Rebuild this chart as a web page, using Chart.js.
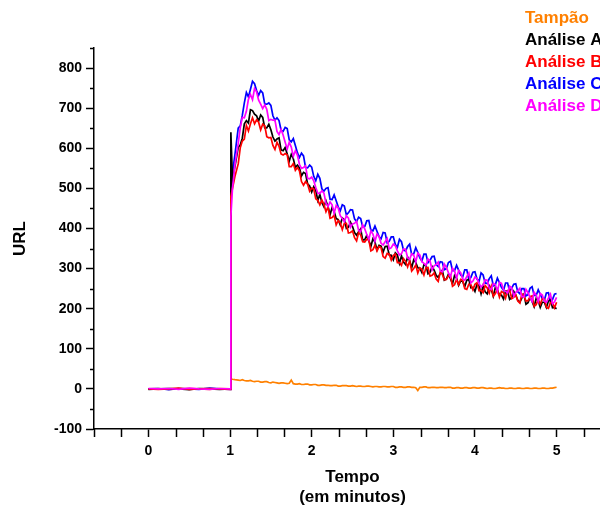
<!DOCTYPE html>
<html>
<head>
<meta charset="utf-8">
<script src="https://cdn.jsdelivr.net/npm/chart.js@4.4.0/dist/chart.umd.min.js"></script>
<style>
  html, body { margin: 0; padding: 0; background: #fff; overflow: hidden; }
  /* the original figure is cropped on the right, so the canvas is a bit wider than the window */
  #wrap { position: absolute; left: 0; top: 0; width: 620px; height: 509px; }
</style>
</head>
<body>
<div id="wrap"><canvas id="chart"></canvas></div>
<script>
// --------------------------
// Data
// --------------------------
const time = [
  0, 0.12, 0.25, 0.37, 0.5, 0.62, 0.75, 0.87, 1.0, 1.01, 1.03, 1.06,
  1.100, 1.125, 1.150, 1.175, 1.200, 1.225, 1.250, 1.275, 1.300, 1.325, 1.350, 1.375, 1.400, 1.425, 1.450, 1.475, 1.500, 1.525, 1.550, 1.575,
  1.600, 1.625, 1.650, 1.675, 1.700, 1.725, 1.750, 1.775, 1.800, 1.825, 1.850, 1.875, 1.900, 1.925, 1.950, 1.975, 2.000, 2.025, 2.050, 2.075,
  2.100, 2.125, 2.150, 2.175, 2.200, 2.225, 2.250, 2.275, 2.300, 2.325, 2.350, 2.375, 2.400, 2.425, 2.450, 2.475, 2.500, 2.525, 2.550, 2.575,
  2.600, 2.625, 2.650, 2.675, 2.700, 2.725, 2.750, 2.775, 2.800, 2.825, 2.850, 2.875, 2.900, 2.925, 2.950, 2.975, 3.000, 3.025, 3.050, 3.075,
  3.100, 3.125, 3.150, 3.175, 3.200, 3.225, 3.250, 3.275, 3.300, 3.325, 3.350, 3.375, 3.400, 3.425, 3.450, 3.475, 3.500, 3.525, 3.550, 3.575,
  3.600, 3.625, 3.650, 3.675, 3.700, 3.725, 3.750, 3.775, 3.800, 3.825, 3.850, 3.875, 3.900, 3.925, 3.950, 3.975, 4.000, 4.025, 4.050, 4.075,
  4.100, 4.125, 4.150, 4.175, 4.200, 4.225, 4.250, 4.275, 4.300, 4.325, 4.350, 4.375, 4.400, 4.425, 4.450, 4.475, 4.500, 4.525, 4.550, 4.575,
  4.600, 4.625, 4.650, 4.675, 4.700, 4.725, 4.750, 4.775, 4.800, 4.825, 4.850, 4.875, 4.900, 4.925, 4.950, 4.975, 5.000
];

const tampao = [
  0, 1, -1, 0, 1, 0, -1, 1, 0, 25, 24, 23,
  22, 21, 23, 21, 20, 20, 21, 19, 18, 19, 19, 17, 17, 18, 18, 16, 15, 17, 16, 15,
  14, 15, 15, 14, 13, 14, 22, 13, 12, 12, 13, 11, 11, 12, 12, 10, 10, 11, 11, 9,
  9, 10, 10, 9, 9, 8, 8, 9, 9, 7, 7, 8, 8, 8, 7, 7, 8, 7, 6, 7,
  7, 6, 6, 7, 7, 6, 5, 6, 6, 5, 5, 6, 6, 5, 5, 6, 6, 4, 4, 5,
  5, 4, 4, 5, 5, 4, 4, 3, -4, 4, 4, 5, 5, 3, 3, 4, 4, 3, 3, 4,
  4, 3, 3, 4, 4, 2, 2, 3, 3, 2, 2, 3, 3, 2, 2, 3, 3, 2, 2, 3,
  3, 2, 1, 2, 2, 1, 1, 2, 3, 2, 2, 1, 1, 2, 2, 1, 1, 2, 2, 1,
  1, 2, 2, 1, 1, 2, 2, 1, 1, 2, 2, 1, 1, 2, 2, 3, 4
];

const analiseA = [
  -1, 0, 1, 0, -2, 1, 0, -1, 0, 640, 520, 555,
  602, 608, 625, 661, 669, 663, 696, 694, 685, 681, 668, 683, 677, 651, 651, 660, 646, 628, 618, 623,
  626, 596, 594, 602, 586, 568, 585, 574, 552, 558, 551, 531, 540, 537, 511, 506, 491, 504, 495, 470,
  485, 464, 454, 469, 455, 434, 452, 442, 425, 422, 409, 426, 422, 400, 403, 416, 405, 390, 383, 392,
  399, 371, 372, 383, 370, 355, 374, 366, 347, 358, 356, 341, 355, 356, 334, 333, 322, 339, 334, 313,
  332, 316, 310, 329, 320, 302, 322, 315, 302, 301, 290, 310, 308, 287, 291, 305, 296, 283, 278, 288,
  296, 271, 274, 286, 275, 262, 283, 276, 258, 269, 268, 255, 271, 273, 252, 253, 243, 261, 257, 237,
  257, 242, 237, 257, 248, 231, 253, 247, 234, 234, 224, 244, 243, 223, 228, 243, 234, 221, 216, 227,
  236, 211, 215, 228, 218, 205, 226, 220, 203, 216, 216, 203, 219, 222, 202, 203, 200
];

const analiseB = [
  0, -1, 0, 2, -1, 0, 1, 0, -1, 480, 500, 530,
  561, 601, 618, 623, 657, 643, 661, 676, 661, 671, 665, 646, 660, 656, 629, 626, 627, 607, 597, 615,
  605, 586, 583, 587, 584, 554, 554, 562, 545, 552, 544, 517, 508, 517, 511, 493, 501, 499, 474, 470,
  459, 471, 460, 442, 454, 425, 427, 433, 409, 420, 414, 397, 413, 413, 389, 390, 394, 377, 369, 390,
  384, 367, 366, 373, 372, 344, 347, 358, 344, 355, 352, 330, 326, 338, 336, 321, 333, 336, 315, 315,
  308, 325, 318, 304, 320, 294, 300, 309, 289, 302, 298, 284, 302, 303, 281, 283, 289, 274, 268, 291,
  286, 272, 273, 282, 283, 256, 260, 273, 260, 273, 271, 250, 248, 261, 260, 247, 261, 265, 245, 246,
  240, 258, 252, 239, 256, 231, 238, 248, 229, 243, 240, 226, 245, 247, 225, 228, 234, 219, 214, 237,
  233, 219, 220, 230, 232, 206, 210, 223, 211, 225, 224, 203, 201, 215, 215, 202, 216
];

const analiseC = [
  0, 1, -2, 1, 0, -1, 2, 0, -1, 470, 540, 585,
  650, 656, 682, 713, 739, 728, 747, 767, 761, 744, 732, 744, 738, 710, 710, 713, 707, 681, 670, 676,
  669, 645, 642, 652, 649, 621, 616, 624, 607, 589, 577, 588, 581, 552, 551, 558, 553, 530, 519, 535,
  525, 499, 493, 500, 502, 473, 472, 484, 469, 454, 444, 459, 456, 434, 439, 447, 446, 424, 417, 428,
  425, 404, 405, 419, 420, 396, 394, 406, 393, 380, 374, 390, 389, 364, 368, 379, 379, 360, 353, 373,
  367, 346, 344, 355, 361, 335, 337, 352, 340, 327, 319, 336, 336, 315, 321, 330, 331, 310, 305, 317,
  316, 297, 300, 315, 318, 295, 295, 308, 296, 284, 279, 297, 297, 273, 278, 291, 292, 274, 268, 289,
  284, 264, 263, 275, 282, 257, 260, 276, 265, 253, 246, 264, 264, 244, 251, 261, 262, 242, 237, 250,
  250, 232, 235, 251, 255, 233, 233, 247, 236, 225, 221, 239, 240, 217, 223, 236, 238
];

const analiseD = [
  1, 0, 1, -1, 2, 0, -1, 1, 0, 430, 500, 560,
  612, 651, 677, 676, 692, 722, 734, 721, 749, 741, 720, 710, 699, 708, 697, 669, 672, 670, 670, 642,
  634, 647, 633, 615, 598, 615, 603, 580, 594, 583, 560, 550, 552, 556, 525, 524, 528, 519, 502, 488,
  487, 494, 488, 463, 455, 466, 459, 438, 457, 451, 432, 425, 417, 432, 426, 403, 411, 413, 418, 395,
  392, 409, 399, 385, 373, 394, 386, 368, 386, 380, 363, 359, 367, 375, 349, 352, 361, 357, 344, 334,
  337, 349, 348, 327, 323, 337, 334, 316, 338, 334, 317, 313, 308, 324, 319, 297, 307, 310, 316, 294,
  292, 311, 303, 290, 279, 301, 294, 276, 295, 290, 274, 271, 280, 289, 264, 269, 279, 275, 263, 254,
  259, 272, 271, 251, 248, 263, 260, 243, 266, 263, 247, 243, 239, 256, 252, 231, 241, 245, 251, 230,
  229, 248, 240, 228, 218, 241, 234, 218, 238, 234, 219, 216, 226, 236, 212, 217, 228
];

const xTicks = [0, 1, 2, 3, 4, 5];
const yTicks = [-100, 0, 100, 200, 300, 400, 500, 600, 700, 800];

// --------------------------
// Helpers
// --------------------------
const FONT = '"Liberation Sans", Arial, sans-serif';
Chart.defaults.font.family = FONT;
Chart.defaults.color = '#000';

const pts = (vals) => time.map((t, i) => ({ x: t, y: vals[i] }));

const line = (label, vals, color, order) => ({
  label: label,
  data: pts(vals),
  borderColor: color,
  backgroundColor: color,
  borderWidth: 1.7,
  pointRadius: 0,
  tension: 0,
  fill: false,
  order: order
});

// short minor ticks + text legend in the top right corner
const extras = {
  id: 'extras',
  afterDraw(chart) {
    const { ctx, chartArea } = chart;
    const x = chart.scales.x;
    const y = chart.scales.y;
    ctx.save();
    ctx.strokeStyle = '#000';
    ctx.lineWidth = 1.5;
    ctx.beginPath();
    for (let k = -2; k <= 16; k++) {
      if (k % 3 === 0) continue;
      const px = Math.round(x.getPixelForValue(k / 3)) + 0.5;
      ctx.moveTo(px, chartArea.bottom);
      ctx.lineTo(px, chartArea.bottom + 8);
    }
    for (let v = -50; v <= 850; v += 100) {
      const py = Math.round(y.getPixelForValue(v)) + 0.5;
      ctx.moveTo(chartArea.left - 4, py);
      ctx.lineTo(chartArea.left, py);
    }
    ctx.stroke();

    ctx.font = 'bold 17px ' + FONT;
    ctx.textAlign = 'left';
    ctx.textBaseline = 'alphabetic';
    chart.data.datasets.forEach((ds, i) => {
      ctx.fillStyle = ds.borderColor;
      ctx.fillText(ds.label, 525, 23 + i * 22);
    });
    ctx.restore();
  }
};

new Chart(document.getElementById('chart'), {
  type: 'line',
  data: {
    datasets: [
      line('Tampão', tampao, '#ff8000', 5),
      line('Análise A', analiseA, '#000000', 3),
      line('Análise B', analiseB, '#ff0000', 2),
      line('Análise C', analiseC, '#0000ff', 4),
      line('Análise D', analiseD, '#ff00ff', 1)
    ]
  },
  options: {
    responsive: true,
    maintainAspectRatio: false,
    animation: false,
    layout: { padding: { top: 48, right: 9, left: 0, bottom: 0 } },
    plugins: {
      legend: { display: false },
      tooltip: { enabled: false }
    },
    scales: {
      x: {
        type: 'linear',
        min: -2 / 3,
        max: 17 / 3,
        afterBuildTicks: (scale) => { scale.ticks = xTicks.map(v => ({ value: v })); },
        afterFit: (scale) => { scale.height = 80; },
        border: { display: true, color: '#000', width: 1.5 },
        grid: { display: true, drawOnChartArea: false, drawTicks: true, tickLength: 8, tickColor: '#000', tickWidth: 1.5 },
        ticks: { padding: 6, maxRotation: 0, font: { size: 14, weight: 'bold' }, color: '#000' },
        title: {
          display: true,
          text: ['Tempo', '(em minutos)'],
          font: { size: 17, weight: 'bold' },
          color: '#000',
          padding: { top: 0, bottom: 1 }
        }
      },
      y: {
        type: 'linear',
        min: -100,
        max: 850,
        afterBuildTicks: (scale) => { scale.ticks = yTicks.map(v => ({ value: v })); },
        afterFit: (scale) => { scale.width = 94; },
        border: { display: true, color: '#000', width: 1.5 },
        grid: { display: true, drawOnChartArea: false, drawTicks: true, tickLength: 8, tickColor: '#000', tickWidth: 1.5 },
        ticks: { padding: 4, font: { size: 14, weight: 'bold' }, color: '#000' },
        title: {
          display: true,
          text: 'URL',
          font: { size: 17, weight: 'bold' },
          color: '#000',
          padding: { top: 10, bottom: 0 }
        }
      }
    }
  },
  plugins: [extras]
});
</script>
</body>
</html>
